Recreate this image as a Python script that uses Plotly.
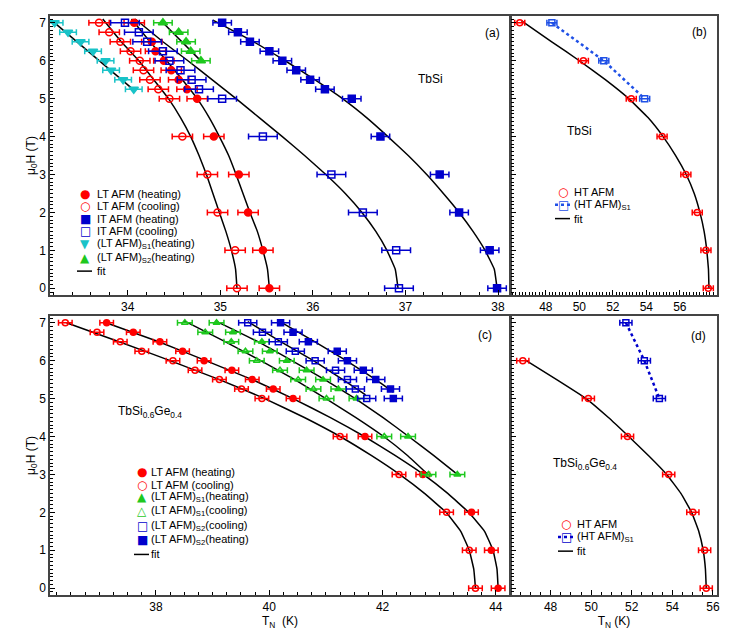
import plotly.graph_objects as go

# the page puts an 8px body margin around the figure, so the figure is 8px smaller
PAD = 8
W, H = 747 - PAD, 640 - PAD
ML, MR, MT, MB = 42, 30, 6, 45

RED = "#ff0000"
BLUE = "#0000cc"
CYAN = "#19c3c8"
GREEN = "#1ec81e"
BLUE2 = "#1f50e6"
FONT = "Liberation Sans, Arial, sans-serif"

# ---- (a) TbSi, low-temperature transitions ----
A_LT_HEAT_H = [7, 6.5, 6.25, 6, 5.75, 5.5, 5.25, 5, 4, 3, 2, 1, 0]
A_LT_HEAT_T = [34.07, 34.26, 34.30, 34.39, 34.47, 34.55, 34.64, 34.75, 34.93, 35.20, 35.30, 35.46, 35.53]
A_LT_COOL_H = [7, 6.75, 6.5, 6.25, 6, 5.75, 5.5, 5.25, 5, 4, 3, 2, 1, 0]
A_LT_COOL_T = [33.69, 33.80, 33.92, 34.03, 34.13, 34.17, 34.24, 34.33, 34.45, 34.59, 34.86, 34.97, 35.16, 35.18]
A_IT_HEAT_H = [7, 6.75, 6.5, 6.25, 6, 5.75, 5.5, 5.25, 5, 4, 3, 2, 1, 0]
A_IT_HEAT_T = [35.02, 35.19, 35.32, 35.53, 35.67, 35.82, 35.97, 36.13, 36.42, 36.73, 37.37, 37.58, 37.91, 37.99]
A_IT_COOL_H = [7, 6.75, 6.5, 6.25, 6, 5.75, 5.5, 5.25, 5, 4, 3, 2, 1, 0]
A_IT_COOL_T = [33.97, 34.12, 34.21, 34.38, 34.45, 34.57, 34.69, 34.77, 35.02, 35.46, 36.20, 36.54, 36.90, 36.93]
A_S1_H = [7, 6.75, 6.5, 6.25, 6, 5.75, 5.5, 5.25]
A_S1_T = [33.21, 33.355, 33.49, 33.625, 33.76, 33.82, 33.95, 34.065]
A_S2_H = [7, 6.75, 6.5, 6.25, 6]
A_S2_T = [34.38, 34.55, 34.63, 34.68, 34.79]

# fit curves
A_FIT_S1_H = [7.0, 5.22]
A_FIT_S1_T = [33.21, 34.07]
A_FIT_S2_H = [7.03, 5.97]
A_FIT_S2_T = [34.37, 34.80]
A_FIT_LTC_H = [7.1, 6.5, 6, 5.5, 5, 4.5, 4, 3.5, 3, 2.5, 2, 1.5, 1, 0.5, 0]
A_FIT_LTC_T = [33.73, 33.93, 34.12, 34.28, 34.44, 34.57, 34.68, 34.77, 34.85, 34.92, 34.99, 35.06, 35.12, 35.165, 35.18]
A_FIT_LTH_H = [7.1, 6.5, 6, 5.5, 5, 4.5, 4, 3.5, 3, 2.5, 2, 1.5, 1, 0.5, 0]
A_FIT_LTH_T = [34.04, 34.24, 34.42, 34.59, 34.75, 34.88, 34.99, 35.09, 35.17, 35.245, 35.32, 35.40, 35.46, 35.51, 35.53]
A_FIT_ITC_H = [7.1, 6.5, 6, 5.5, 5, 4.5, 4, 3.5, 3, 2.5, 2, 1.5, 1, 0.5, 0]
A_FIT_ITC_T = [34.08, 34.38, 34.65, 34.91, 35.17, 35.42, 35.67, 35.91, 36.14, 36.35, 36.53, 36.68, 36.80, 36.89, 36.92]
A_FIT_ITH_H = [7.07, 6.5, 6, 5.5, 5, 4.5, 4, 3.5, 3, 2.5, 2, 1.5, 1, 0.5, 0]
A_FIT_ITH_T = [34.92, 35.36, 35.70, 36.02, 36.32, 36.58, 36.81, 37.03, 37.23, 37.41, 37.58, 37.73, 37.86, 37.96, 37.99]

# ---- (b) TbSi, high-temperature transition ----
B_HT_H = [7, 6, 5, 4, 3, 2, 1, 0]
B_HT_T = [46.44, 50.24, 53.10, 54.94, 56.36, 57.04, 57.56, 57.70]
B_S1_H = [7, 6, 5]
B_S1_T = [48.36, 51.46, 53.90]
B_FIT_H = [7.05, 6.5, 6, 5.5, 5, 4.5, 4, 3.5, 3, 2.5, 2, 1.5, 1, 0.5, 0]
B_FIT_T = [46.55, 48.35, 50.0, 51.55, 52.95, 54.1, 55.0, 55.75, 56.38, 56.86, 57.2, 57.45, 57.61, 57.71, 57.74]

# ---- (c) TbSi0.6Ge0.4, low-temperature transitions ----
C_LT_H = [7, 6.75, 6.5, 6.25, 6, 5.75, 5.5, 5.25, 5, 4, 3, 2, 1, 0]
C_LT_HEAT_T = [37.13, 37.60, 38.07, 38.47, 38.85, 39.34, 39.70, 40.07, 40.42, 41.69, 42.71, 43.57, 43.92, 44.04]
C_LT_COOL_T = [36.40, 36.96, 37.37, 37.75, 38.30, 38.69, 39.12, 39.51, 39.87, 41.25, 42.29, 43.13, 43.53, 43.64]
C_S1_H = [7, 6.75, 6.5, 6.25, 6, 5.75, 5.5, 5.25, 5, 4, 3]
C_S1_HEAT_T = [39.07, 39.36, 39.87, 40.01, 40.31, 40.66, 40.95, 41.22, 41.54, 42.45, 43.32]
C_S1_COOL_T = [38.51, 38.87, 39.33, 39.58, 39.78, 40.19, 40.51, 40.78, 41.01, 42.03, 42.81]
C_S2_H = [7, 6.75, 6.5, 6.25, 6, 5.75, 5.5, 5.25, 5]
C_S2_COOL_T = [39.62, 39.88, 40.16, 40.46, 40.81, 41.17, 41.38, 41.52, 41.72]
C_S2_HEAT_T = [40.20, 40.42, 40.69, 41.20, 41.38, 41.66, 41.88, 42.14, 42.19]

C_FIT_LT_H = [7, 6.5, 6, 5.5, 5, 4.5, 4, 3.5, 3, 2.5, 2, 1.5, 1, 0.5, 0]
C_FIT_LTC_T = [36.42, 37.35, 38.25, 39.12, 39.92, 40.62, 41.25, 41.80, 42.30, 42.74, 43.12, 43.38, 43.53, 43.61, 43.64]
C_FIT_LTH_T = [37.12, 38.05, 38.88, 39.70, 40.42, 41.08, 41.68, 42.22, 42.72, 43.15, 43.52, 43.80, 43.95, 44.02, 44.04]
C_FIT_S1_H = [7.05, 6.5, 6, 5.5, 5, 4.5, 4, 3.5, 3]
C_FIT_S1C_T = [38.50, 39.22, 39.85, 40.45, 41.00, 41.53, 42.02, 42.44, 42.80]
C_FIT_S1H_T = [39.05, 39.80, 40.40, 40.98, 41.52, 42.01, 42.46, 42.90, 43.32]
C_FIT_S2C_H = [7.03, 6.5, 6, 5.5, 5.1]
C_FIT_S2C_T = [39.62, 40.20, 40.78, 41.30, 41.70]
C_FIT_S2H_H = [7.03, 6.5, 6, 5.5, 5.17]
C_FIT_S2H_T = [40.19, 40.80, 41.36, 41.88, 42.19]

# ---- (d) TbSi0.6Ge0.4, high-temperature transition ----
D_HT_H = [6, 5, 4, 3, 2, 1, 0]
D_HT_T = [46.63, 49.86, 51.79, 53.82, 55.01, 55.59, 55.67]
D_S1_H = [7, 6, 5]
D_S1_T = [51.71, 52.62, 53.36]
D_FIT_H = [6, 5.5, 5, 4.5, 4, 3.5, 3, 2.5, 2, 1.5, 1, 0.5, 0]
D_FIT_T = [46.8, 48.3, 49.75, 50.85, 51.85, 52.82, 53.72, 54.42, 54.95, 55.3, 55.52, 55.63, 55.67]


def px(x, y):
    """position on the page (reference pixels) -> paper coordinates"""
    return (x - PAD - ML) / (W - ML - MR), (H - MB - (y - PAD)) / (H - MT - MB)


fig = go.Figure()


def fit(T, Hf, n, color="black", width=1.5):
    fig.add_trace(go.Scatter(
        x=T, y=Hf, xaxis="x" + n, yaxis="y" + n, mode="lines",
        line=dict(color=color, width=width, shape="spline", smoothing=0.3),
        showlegend=False, hoverinfo="skip"))


def pts(T, Hf, n, symbol, color, size, err, mode="markers", dash=None):
    fig.add_trace(go.Scatter(
        x=T, y=Hf, xaxis="x" + n, yaxis="y" + n, mode=mode,
        line=dict(color=color, width=2.5, dash=dash) if dash else None,
        marker=dict(symbol=symbol, color=color, size=size, line=dict(color=color, width=1.5)),
        error_x=dict(type="constant", value=err, color=color, thickness=1.5, width=3),
        showlegend=False, hoverinfo="skip"))


# panel a ("" -> x / y)
for t, h in [(A_FIT_S1_T, A_FIT_S1_H), (A_FIT_S2_T, A_FIT_S2_H), (A_FIT_LTC_T, A_FIT_LTC_H),
             (A_FIT_LTH_T, A_FIT_LTH_H), (A_FIT_ITC_T, A_FIT_ITC_H), (A_FIT_ITH_T, A_FIT_ITH_H)]:
    fit(t, h, "")
pts(A_S1_T, A_S1_H, "", "triangle-down", CYAN, 8, 0.09)
pts(A_S2_T, A_S2_H, "", "triangle-up", GREEN, 8, 0.1)
pts(A_LT_COOL_T, A_LT_COOL_H, "", "circle-open", RED, 7, 0.11)
pts(A_LT_HEAT_T, A_LT_HEAT_H, "", "circle", RED, 7, 0.11)
pts(A_IT_COOL_T, A_IT_COOL_H, "", "square-open", BLUE, 7, 0.155)
pts(A_IT_HEAT_T, A_IT_HEAT_H, "", "square", BLUE, 7, 0.1)

# panel b
fit(B_FIT_T, B_FIT_H, "2")
pts(B_S1_T, B_S1_H, "2", "square-open", BLUE2, 6, 0.3, mode="lines+markers", dash="dot")
pts(B_HT_T, B_HT_H, "2", "circle-open", RED, 6, 0.3)

# panel c
fit(C_FIT_LTC_T, C_FIT_LT_H, "3")
fit(C_FIT_LTH_T, C_FIT_LT_H, "3")
fit(C_FIT_S1C_T, C_FIT_S1_H, "3")
fit(C_FIT_S1H_T, C_FIT_S1_H, "3")
fit(C_FIT_S2C_T, C_FIT_S2C_H, "3")
fit(C_FIT_S2H_T, C_FIT_S2H_H, "3")
pts(C_LT_COOL_T, C_LT_H, "3", "circle-open", RED, 6, 0.12)
pts(C_LT_HEAT_T, C_LT_H, "3", "circle", RED, 6, 0.12)
pts(C_S1_COOL_T, C_S1_H, "3", "triangle-up-open", GREEN, 6, 0.13)
pts(C_S1_HEAT_T, C_S1_H, "3", "triangle-up", GREEN, 6, 0.13)
pts(C_S2_COOL_T, C_S2_H, "3", "square-open", BLUE, 6, 0.16)
pts(C_S2_HEAT_T, C_S2_H, "3", "square", BLUE, 6, 0.16)

# panel d
fit(D_FIT_T, D_FIT_H, "4")
pts(D_S1_T, D_S1_H, "4", "square-open", BLUE, 6, 0.3, mode="lines+markers", dash="dot")
pts(D_HT_T, D_HT_H, "4", "circle-open", RED, 6, 0.3)


def axis(**kw):
    base = dict(showline=True, linecolor="#444", linewidth=1.5, mirror=True,
                ticks="inside", ticklen=5, tickwidth=1, tickcolor="#000",
                showgrid=False, zeroline=False,
                tickfont=dict(size=12, color="#000", family=FONT))
    base.update(kw)
    return base


def minor(step):
    return dict(dtick=step, ticks="inside", ticklen=3, tickcolor="#000", showgrid=False)


YR = [-0.18, 7.18]
ytitle = dict(text="\u03bc<sub>0</sub>H (T)", font=dict(size=12, color="#000"), standoff=1)

XA = [0.0, 0.6897]
XB = [0.6912, 1.0]
YT = [0.518, 1.0]
YB = [0.0, 0.482]

fig.update_layout(
    width=W, height=H,
    margin=dict(l=ML, r=MR, t=MT, b=MB),
    paper_bgcolor="white", plot_bgcolor="white",
    font=dict(family=FONT, size=12, color="#000"),
    showlegend=False,
    xaxis=axis(domain=XA, anchor="y", range=[33.16, 38.13], dtick=1, minor=minor(0.2)),
    yaxis=axis(domain=YT, anchor="x", range=YR, dtick=1, minor=minor(0.1), title=ytitle),
    xaxis2=axis(domain=XB, anchor="y2", range=[45.92, 58.22], tickmode="array",
                tickvals=[48, 50, 52, 54, 56], minor=minor(0.2)),
    yaxis2=axis(domain=YT, anchor="x2", range=YR, dtick=1, minor=minor(0.1), showticklabels=False),
    xaxis3=axis(domain=XA, anchor="y3", range=[36.13, 44.25], dtick=2, minor=minor(0.25),
                title=dict(text="T<sub>N</sub>  (K)", font=dict(size=12, color="#000"), standoff=1)),
    yaxis3=axis(domain=YB, anchor="x3", range=YR, dtick=1, minor=minor(0.1), title=ytitle),
    xaxis4=axis(domain=XB, anchor="y4", range=[46.05, 56.2], dtick=2, minor=minor(0.5),
                title=dict(text="T<sub>N</sub> (K)", font=dict(size=12, color="#000"), standoff=1)),
    yaxis4=axis(domain=YB, anchor="x4", range=YR, dtick=1, minor=minor(0.1), showticklabels=False),
)


def note(text, x, y, size=12, color="#000", xanchor="center", family=None):
    ax, ay = px(x, y)
    font = dict(size=size, color=color)
    if family:
        font["family"] = family
    fig.add_annotation(text=text, x=ax, y=ay, xref="paper", yref="paper", showarrow=False,
                       xanchor=xanchor, yanchor="middle", borderpad=0, font=font)


# text labels inside the panels
LABELS = [
    ("TbSi", 430, 77), ("(a)", 492, 31),
    ("TbSi", 579, 129), ("(b)", 699, 30),
    ("TbSi<sub>0.6</sub>Ge<sub>0.4</sub>", 150, 411), ("(c)", 485, 334),
    ("TbSi<sub>0.6</sub>Ge<sub>0.4</sub>", 585, 464), ("(d)", 698, 335),
]
for txt, x, y in LABELS:
    note(txt, x, y)

# hand-drawn legends: (glyph, colour, label)
LEG_A = [("\u25cf", RED, "LT AFM (heating)"), ("\u25cb", RED, "LT AFM (cooling)"),
         ("\u25a0", BLUE, "IT AFM (heating)"), ("\u25a1", BLUE, "IT AFM (cooling)"),
         ("\u25bc", CYAN, "(LT AFM)<sub>S1</sub>(heating)"),
         ("\u25b2", GREEN, "(LT AFM)<sub>S2</sub>(heating)"), ("fit", "black", "fit")]
LEG_B = [("\u25cb", RED, "HT AFM"), ("dot", BLUE2, "(HT AFM)<sub>S1</sub>"), ("fit", "black", "fit")]
LEG_C = [("\u25cf", RED, "LT AFM (heating)"), ("\u25cb", RED, "LT AFM (cooling)"),
         ("\u25b2", GREEN, "(LT AFM)<sub>S1</sub>(heating)"),
         ("\u25b3", GREEN, "(LT AFM)<sub>S1</sub>(cooling)"),
         ("\u25a1", BLUE, "(LT AFM)<sub>S2</sub>(cooling)"),
         ("\u25a0", BLUE, "(LT AFM)<sub>S2</sub>(heating)"), ("fit", "black", "fit")]
LEG_D = [("\u25cb", RED, "HT AFM"), ("dot", BLUE, "(HT AFM)<sub>S1</sub>"), ("fit", "black", "fit")]


def legend(items, gx, tx, rows):
    for (g, c, lab), y in zip(items, rows):
        if g in ("fit", "dot"):
            x0, y0 = px(gx - 8, y)
            x1, _ = px(gx + 7, y)
            fig.add_shape(type="line", x0=x0, x1=x1, y0=y0, y1=y0, xref="paper", yref="paper",
                          line=dict(color=c, width=2.5 if g == "dot" else 1.5,
                                    dash="dot" if g == "dot" else "solid"))
            if g == "dot":
                note("\u25a1", gx, y, size=12, color=c, family="DejaVu Sans")
        else:
            note(g, gx, y, size=12, color=c, family="DejaVu Sans")
        note(lab, tx, y, size=11, xanchor="left")


legend(LEG_A, 85, 96, [192.7, 205, 217.5, 230, 242.5, 256.7, 270])
legend(LEG_B, 563, 573, [190.7, 203.3, 217.3])
legend(LEG_C, 142, 150, [472, 484.3, 496.7, 511, 525.7, 540, 554.3])
legend(LEG_D, 566, 576, [523.3, 536.7, 551])

fig.write_html("out.html")
